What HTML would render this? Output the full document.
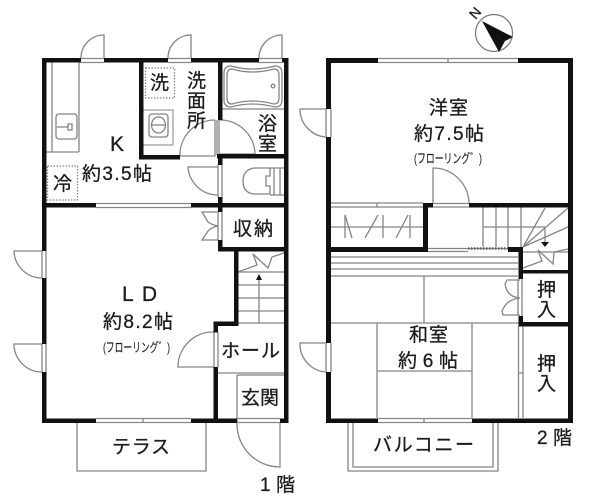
<!DOCTYPE html>
<html><head><meta charset="utf-8">
<style>
html,body{margin:0;padding:0;background:#fff;width:600px;height:501px;overflow:hidden}
svg{display:block;filter:blur(0.35px)}
text{font-family:"Liberation Sans","Noto Sans CJK JP",sans-serif;fill:#1c1c1c;font-size:19px;stroke:#1c1c1c;stroke-width:0.3}
.t{fill:none;stroke:#858585;stroke-width:1.3}
.d{fill:none;stroke:#858585;stroke-width:1.3;stroke-dasharray:1.5 1.5}
.w{fill:#111;stroke:none}
</style></head><body>
<svg width="600" height="501" viewBox="0 0 600 501" xmlns="http://www.w3.org/2000/svg">
<!-- 1F thin lines -->
<g class="t">
<path d="M104 58V35A23 23 0 0 0 81 58"/><path d="M191 58V35A23 23 0 0 0 168 58"/><path d="M282 58V35A23 23 0 0 0 259 58"/>
<path d="M81 58.500H104M81 62.500H104M168 58.500H191M168 62.500H191M259 58.500H282M259 62.500H282"/>
<path d="M42 251H14A28 28 0 0 0 42 278"/><path d="M42 344H14A28 28 0 0 0 42 372"/>
<path d="M42 251V278M46 251V278M42 344V372M46 344V372"/>
<path d="M52 62V152M79 62V152M46 152H79"/>
<rect x="56" y="114" width="21" height="25" rx="3"/>
<path d="M57 127H68M68 124h4v6h-4z"/>
<path d="M96 203.500H191M96 207.500H191"/>
<path d="M143 110H173V145M143 145H173" stroke-width="1"/>
<rect x="149" y="114" width="19" height="23" rx="3"/>
<ellipse cx="158.500" cy="125" rx="7" ry="8"/>
<path d="M152 125H165"/>
<path d="M222 109H284"/>
<path d="M231 66Q252 72 275 66Q282 66 282 73V100Q282 107 275 107Q252 101 231 107Q224 107 224 100V73Q224 66 231 66Z"/>
<path d="M232 69Q252 75 274 69Q279 69 279 75V98Q279 104 274 104Q252 98 232 104Q227 104 227 98V75Q227 69 232 69Z"/>
<circle cx="273" cy="86" r="1.800"/>
<path d="M219 120A35 35 0 0 1 255 154H219V120"/>
<path d="M215 120A35 35 0 0 0 180 156H215V120"/>
<path d="M217 120V155"/>
<path d="M218 167H188A30 30 0 0 0 218 195"/>
<path d="M218 165V197M222 165V197"/>
<path d="M270 168H254Q243 170 243 181Q243 193 254 194H270V186H266V176H270Z"/>
<path d="M274 168V195M280 168V195M284 168H270M284 195H270"/>
<path d="M218 212H202L208 222Q212 225 218 226Q212 227 208 231L202 240H218" />
<path d="M218 212V240M222 212V240"/>
<path d="M238 272H284M238 285H284M238 298H284M238 311H284M238 323H284"/>
<path d="M259 323V280"/>
<path d="M238 272L257 265L253 254L268 268L272 257L284 253"/>
<path d="M214 332A35 35 0 0 0 178 367H214V332"/>
<path d="M218 332V367"/>
<path d="M96 418.500H191M96 422.500H191M143 418V423"/>
<path d="M77 423V471H206V423"/>
<path d="M218 373H284M237 375V423M237 375H284"/>
<path d="M237 418.500H280M237 422.500H280"/>
<path d="M280 423V467A43 43 0 0 1 237 423"/>
</g>
<polygon points="259,274 256,280 262,280" fill="#111"/>
<rect class="d" x="145.500" y="68" width="29" height="30"/>
<rect class="d" x="47.500" y="166" width="30" height="34"/>
<!-- 1F walls -->
<g class="w">
<rect x="42" y="58" width="39" height="4.500"/><rect x="104" y="58" width="64" height="4.500"/><rect x="191" y="58" width="68" height="4.500"/><rect x="282" y="58" width="6" height="4.500"/>
<rect x="42" y="58" width="4.500" height="193"/><rect x="42" y="278" width="4.500" height="66"/><rect x="42" y="372" width="4.500" height="51"/>
<rect x="284" y="58" width="4.500" height="365"/>
<rect x="139" y="60" width="4.500" height="99"/><rect x="139" y="155" width="41" height="4.500"/>
<rect x="218" y="60" width="4.500" height="60"/><rect x="217" y="154" width="71" height="4.500"/><rect x="218" y="154" width="4.500" height="11"/>
<rect x="42" y="203" width="54" height="4.500"/><rect x="191" y="203" width="97" height="4.500"/>
<rect x="218" y="197" width="4.500" height="15"/><rect x="218" y="240" width="4.500" height="11"/>
<rect x="218" y="247" width="70" height="4.500"/>
<rect x="234" y="247" width="4.500" height="79"/><rect x="213.500" y="321.500" width="25" height="4.500"/>
<rect x="213.500" y="321.500" width="4.500" height="11"/><rect x="213.500" y="367" width="4.500" height="56"/>
<rect x="42" y="418.500" width="54" height="4.500"/><rect x="191" y="418.500" width="46" height="4.500"/><rect x="280" y="418.500" width="8.500" height="4.500"/>
</g>
<!-- 2F thin lines -->
<g class="t">
<path d="M378 58.500H518M378 62.500H518M448 58V63"/>
<path d="M326 109H300A28 28 0 0 0 326 137"/><path d="M326 343H300A28 28 0 0 0 326 372"/>
<path d="M326 109V137M331 109V137M326 343V372M331 343V372"/>
<path d="M433 203V168A36 36 0 0 1 469 203"/>
<path d="M433 203.500H469M433 207H469"/>
<path d="M331 203H423M331 207H423M377 203V207"/>
<path d="M331 227H423"/>
<path d="M345 215L352 238M345 215V238M378 215L365 238M383 215V238M396 238L408 215M410 215V238"/>
<path d="M483 207V247M496 207V247M508 207V247M521 207V247M483 227H545"/>
<path d="M523 247L545 208M523 247L568 208M523 247L568 227M545 227V242"/>
<path d="M523 252H568M523 272H568"/>
<path d="M523 268L542 261L538 250L553 264L554 252L568 249"/>
<path d="M428 248.500H468M428 251.500H468"/>
<path d="M468 248.500H508"/>
<path d="M331 257H518M331 263H518M331 269H518M331 276H518"/>
<path d="M424 276V323M331 323H520M377 323V418M472 323V418M377 371H472"/>
<path d="M518.500 326V418M523 326V418M518 373H523"/>
<path d="M520 280H507L505 284Q507 297 520 298Q507 299 502 311L503 315H520"/>
<path d="M518 279V316M522 279V316"/>
<path d="M378 418.500H472M378 422.500H472M424 418V423"/>
<path d="M348 423V471H498V423M353 423V467H493V423"/>
</g>
<path d="M468 248.500H508" stroke="#666" stroke-width="2.500" stroke-dasharray="1.500 1.500" fill="none"/>
<polygon points="545,247 541,242 549,242" fill="#111"/>
<!-- 2F walls -->
<g class="w">
<rect x="326" y="58" width="52" height="5"/><rect x="518" y="58" width="55" height="5"/>
<rect x="326" y="58" width="5" height="51"/><rect x="326" y="137" width="5" height="206"/><rect x="326" y="372" width="5" height="51"/>
<rect x="568" y="58" width="5" height="365"/>
<rect x="423" y="203" width="10" height="4.500"/><rect x="469" y="203" width="99" height="4.500"/>
<rect x="423" y="203" width="5" height="49"/><rect x="326" y="247" width="102" height="5"/>
<rect x="508" y="247" width="15" height="5"/><rect x="518.500" y="247" width="4.500" height="32"/>
<rect x="519" y="270" width="49" height="3.500"/>
<rect x="518.500" y="316" width="4.500" height="10"/><rect x="518.500" y="322" width="50" height="4.500"/>
<rect x="326" y="418.500" width="52" height="4.500"/><rect x="472" y="418.500" width="101" height="4.500"/>
</g>
<!-- compass -->
<circle cx="494" cy="33" r="18.500" fill="#fff" stroke="#777" stroke-width="1.200"/>
<polygon points="482,21 513,37 505,41 499,52" fill="#111"/>
<text x="470" y="18" style="font-size:14px" transform="rotate(-50 475 13)">N</text>
<!-- labels -->
<text x="110" y="151" style="font-size:21px">K</text>
<text x="82" y="180" textLength="70">約3.5帖</text>
<text x="150" y="89">洗</text>
<text x="187" y="87">洗</text><text x="187" y="107">面</text><text x="187" y="127">所</text>
<text x="258" y="130">浴</text><text x="258" y="150">室</text>
<text x="53" y="190">冷</text>
<text x="233" y="235" textLength="40">収納</text>
<text x="122" y="301" textLength="35" style="font-size:21px">L D</text>
<text x="103" y="328" textLength="70">約8.2帖</text>
<text x="103" y="352" textLength="67" lengthAdjust="spacingAndGlyphs" style="font-size:13px;stroke-width:0.15">(フローリング゛)</text>
<text x="221" y="357" textLength="59">ホール</text>
<text x="241" y="404" textLength="38">玄関</text>
<text x="112" y="453" textLength="58">テラス</text>
<text x="260" y="491" textLength="35">1 階</text>
<text x="429" y="114" textLength="39">洋室</text>
<text x="414" y="140" textLength="70">約7.5帖</text>
<text x="414" y="163" textLength="68" lengthAdjust="spacingAndGlyphs" style="font-size:13px;stroke-width:0.15">(フローリング゛)</text>
<text x="409" y="341" textLength="39">和室</text>
<text x="398" y="367" textLength="60">約 6 帖</text>
<text x="537" y="296">押</text><text x="537" y="316">入</text>
<text x="537" y="370">押</text><text x="537" y="390">入</text>
<text x="373" y="451" textLength="101">バルコニー</text>
<text x="537" y="444" textLength="35">2 階</text>
</svg>
</body></html>
